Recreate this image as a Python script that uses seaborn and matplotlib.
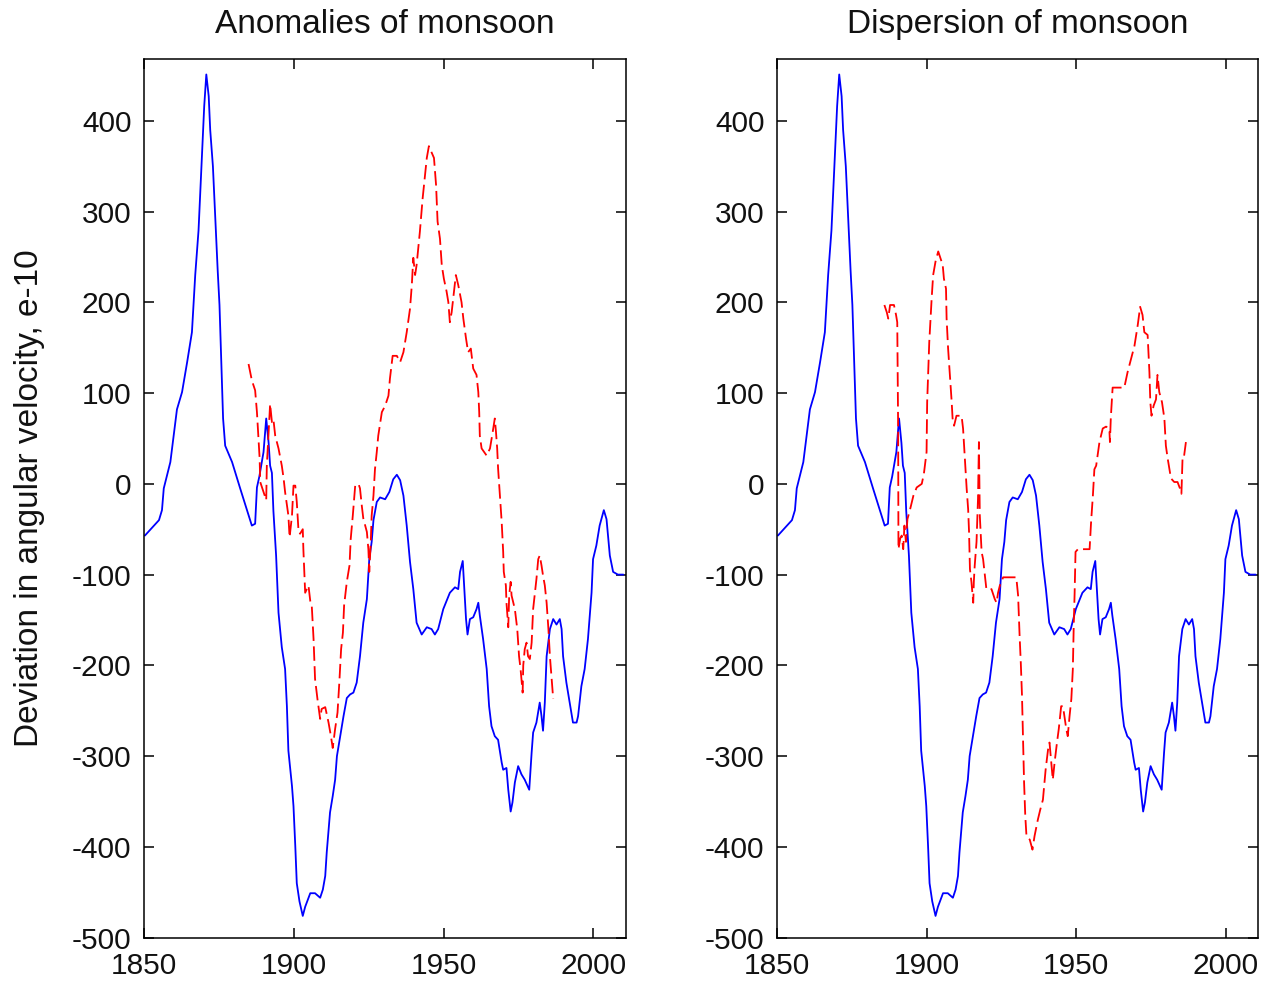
import numpy as np
import pandas as pd
import matplotlib
matplotlib.use("Agg")
import matplotlib.pyplot as plt
import seaborn as sns

# ---------------- data ----------------
# Earth rotation (angular velocity deviation, e-10), same curve in both panels
blue_years = [
    1850.3, 1855.0, 1856.0, 1856.6, 1858.8, 1861.0, 1862.7, 1864.4, 1866.0, 1867.1,
    1868.2, 1869.4, 1870.1, 1870.8, 1871.6, 1872.1, 1873.0, 1873.8, 1874.6, 1875.2,
    1875.8, 1876.4, 1877.1, 1879.4, 1882.1, 1886.0, 1887.1, 1887.7, 1888.5, 1889.9,
    1890.8, 1891.6, 1892.1, 1892.7, 1893.2, 1894.1, 1894.9, 1896.0, 1897.1, 1897.7,
    1898.2, 1899.4, 1899.9, 1900.5, 1901.0, 1901.9, 1903.0, 1903.8, 1905.5, 1907.1,
    1908.8, 1909.7, 1910.5, 1911.0, 1912.1, 1913.0, 1913.8, 1914.4, 1915.5, 1916.6,
    1917.7, 1918.8, 1919.9, 1921.0, 1922.1, 1923.2, 1924.4, 1925.2, 1926.0, 1926.6,
    1927.7, 1928.8, 1930.5, 1931.9, 1933.2, 1934.4, 1935.5, 1936.6, 1937.7, 1938.8,
    1939.9, 1941.0, 1942.7, 1944.4, 1946.0, 1947.1, 1948.2, 1949.9, 1951.0, 1952.1,
    1953.8, 1954.9, 1955.5, 1956.4, 1956.8, 1957.5, 1958.0, 1958.8, 1959.9, 1961.0,
    1961.6, 1962.1, 1963.2, 1964.4, 1965.2, 1966.0, 1967.1, 1968.2, 1969.4, 1969.9,
    1971.0, 1971.6, 1972.4, 1973.0, 1973.8, 1974.9, 1976.0, 1977.1, 1978.6, 1979.4,
    1979.9, 1981.0, 1982.1, 1982.7, 1983.2, 1983.8, 1984.4, 1985.5, 1986.6, 1987.7,
    1988.8, 1989.4, 1989.9, 1991.0, 1992.1, 1993.2, 1994.4, 1994.9, 1996.0, 1997.1,
    1998.2, 1999.4, 1999.9, 2001.0, 2002.1, 2003.5, 2004.4, 2005.5, 2006.6, 2008.2,
    2010.0,
]
blue_values = [
    -57, -40, -29, -5, 24, 82, 101, 134, 167, 230,
    279, 364, 416, 451, 427, 390, 350, 292, 235, 197,
    136, 72, 42, 24, -5, -46, -44, -4, 8, 35,
    72, 45, 20, 12, -30, -79, -142, -180, -204, -245,
    -294, -333, -355, -399, -440, -460, -476, -466, -451, -451,
    -456, -447, -432, -406, -362, -344, -326, -300, -278, -256,
    -236, -232, -230, -219, -190, -153, -127, -83, -64, -40,
    -20, -15, -17, -9, 5, 10, 4, -13, -46, -86,
    -116, -153, -166, -158, -160, -166, -160, -138, -129, -120,
    -114, -116, -97, -85, -109, -149, -166, -149, -147, -138,
    -131, -145, -171, -204, -245, -267, -278, -282, -307, -315,
    -313, -337, -361, -351, -329, -311, -320, -326, -337, -296,
    -274, -263, -241, -256, -272, -241, -190, -160, -149, -155,
    -149, -160, -190, -219, -241, -263, -263, -256, -223, -204,
    -171, -120, -83, -68, -46, -29, -39, -79, -97, -100,
    -100,
]

# Monsoon anomalies (left panel, red dashed)
anom_years = [
    1884.9, 1886.0, 1887.1, 1887.7, 1888.2, 1888.6, 1888.8, 1889.9, 1890.8, 1891.0,
    1892.1, 1892.7, 1893.2, 1893.8, 1894.9, 1896.0, 1896.6, 1897.1, 1898.2, 1898.6,
    1899.4, 1899.9, 1900.5, 1901.0, 1901.6, 1902.1, 1903.0, 1903.2, 1903.8, 1904.9,
    1905.5, 1906.0, 1906.6, 1907.1, 1907.9, 1908.8, 1909.3, 1910.5, 1911.6, 1912.4,
    1913.0, 1913.8, 1914.6, 1915.2, 1915.8, 1916.4, 1916.8, 1917.7, 1918.6, 1919.0,
    1919.7, 1920.5, 1921.6, 1922.1, 1922.7, 1923.2, 1924.4, 1924.9, 1925.2, 1925.7,
    1926.0, 1926.6, 1927.1, 1927.7, 1928.2, 1929.4, 1930.5, 1931.6, 1932.1, 1933.0,
    1934.4, 1935.5, 1936.6, 1937.7, 1938.8, 1939.4, 1939.9, 1940.5, 1941.0, 1942.1,
    1943.0, 1943.8, 1944.4, 1945.1, 1946.8, 1947.5, 1948.0, 1948.8, 1949.4, 1950.1,
    1951.0, 1951.6, 1952.1, 1952.7, 1953.5, 1954.1, 1954.9, 1956.0, 1956.6, 1957.5,
    1958.2, 1959.1, 1959.9, 1961.0, 1961.6, 1961.9, 1962.1, 1962.7, 1964.4, 1965.5,
    1966.4, 1967.1, 1967.5, 1967.9, 1968.2, 1968.8, 1969.4, 1969.9, 1970.1, 1970.8,
    1971.0, 1971.6, 1971.9, 1972.4, 1972.7, 1973.8, 1974.6, 1975.2, 1975.7, 1976.4,
    1976.6, 1977.1, 1977.7, 1978.2, 1978.8, 1979.4, 1979.9, 1980.5, 1981.0, 1981.6,
    1982.1, 1982.7, 1983.2, 1983.8, 1984.4, 1985.0, 1985.5, 1986.1, 1986.6,
]
anom_values = [
    132, 114, 103, 79, 50, 28, 2, -9, -18, 20,
    88, 68, 71, 53, 39, 20, 6, -9, -35, -59,
    -35, -2, -2, -20, -53, -55, -50, -72, -120, -112,
    -129, -134, -171, -215, -237, -259, -248, -246, -263, -278,
    -291, -270, -252, -219, -182, -164, -134, -108, -90, -61,
    -35, -2, 0, -5, -24, -38, -53, -72, -97, -64,
    -35, -13, 16, 35, 53, 79, 86, 97, 116, 141,
    141, 134, 145, 167, 193, 219, 249, 230, 241, 278,
    314, 340, 359, 372, 359, 329, 289, 270, 241, 226,
    212, 200, 178, 189, 212, 230, 219, 200, 182, 160,
    145, 149, 127, 120, 101, 79, 53, 39, 31, 39,
    57, 72, 57, 39, 17, -12, -42, -75, -97, -112,
    -131, -158, -123, -108, -123, -138, -160, -190, -204, -230,
    -200, -182, -175, -190, -193, -175, -138, -120, -105, -83,
    -79, -90, -101, -112, -131, -160, -190, -215, -237,
]

# Monsoon dispersion (right panel, red dashed)
disp_years = [
    1885.9, 1886.7, 1887.2, 1887.8, 1889.1, 1889.8, 1890.2, 1890.5, 1890.6, 1891.2,
    1891.7, 1892.2, 1892.6, 1893.1, 1893.6, 1894.5, 1895.6, 1896.7, 1898.4, 1899.1,
    1900.0, 1900.2, 1900.9, 1901.7, 1902.2, 1903.0, 1903.9, 1904.7, 1905.4, 1905.8,
    1906.5, 1906.7, 1907.2, 1907.8, 1908.4, 1908.7, 1909.2, 1910.0, 1911.7, 1912.2,
    1912.6, 1913.4, 1913.9, 1914.2, 1914.5, 1915.0, 1915.6, 1915.8, 1916.1, 1916.7,
    1917.2, 1917.5, 1917.8, 1918.4, 1918.9, 1919.5, 1920.0, 1921.7, 1922.8, 1923.4,
    1923.9, 1924.5, 1925.6, 1930.0, 1930.6, 1931.1, 1931.5, 1931.9, 1932.2, 1932.6,
    1933.0, 1933.4, 1934.5, 1935.4, 1936.1, 1937.2, 1938.0, 1938.9, 1939.8, 1940.6,
    1941.1, 1941.7, 1942.2, 1942.8, 1943.6, 1944.2, 1945.0, 1945.6, 1946.1, 1946.7,
    1947.2, 1947.8, 1948.4, 1948.9, 1949.2, 1949.5, 1949.8, 1950.6, 1954.5, 1955.0,
    1955.6, 1956.1, 1956.7, 1957.8, 1958.9, 1960.0, 1961.1, 1961.3, 1961.6, 1962.2,
    1963.9, 1966.1, 1967.2, 1968.4, 1969.5, 1970.6, 1971.4, 1972.2, 1972.8, 1973.9,
    1974.5, 1974.8, 1975.2, 1975.9, 1976.7, 1977.2, 1977.8, 1978.7, 1979.5, 1980.0,
    1980.6, 1981.7, 1982.8, 1983.9, 1984.7, 1985.2, 1985.6, 1986.1, 1986.7,
]
disp_values = [
    197, 189, 182, 197, 197, 186, 178, 60, -72, -60,
    -57, -72, -46, -64, -39, -28, -13, -4, 0, 11,
    35, 90, 156, 204, 230, 245, 256, 248, 241, 226,
    215, 182, 149, 120, 90, 72, 64, 75, 75, 61,
    39, -5, -28, -53, -94, -108, -131, -108, -90, -64,
    -16, 46, -35, -75, -83, -101, -116, -116, -127, -131,
    -120, -112, -103, -103, -123, -167, -197, -233, -274, -329,
    -366, -388, -392, -403, -388, -370, -359, -348, -315, -293,
    -285, -307, -326, -307, -285, -270, -245, -245, -256, -270,
    -278, -256, -237, -204, -156, -120, -75, -72, -72, -42,
    -13, 16, 20, 46, 61, 63, 61, 46, 73, 106,
    106, 106, 123, 138, 152, 175, 195, 186, 167, 164,
    123, 90, 75, 86, 93, 120, 101, 90, 72, 42,
    28, 6, 2, 2, -5, -11, 31, 31, 46,
]

panel_titles = ["Anomalies of monsoon", "Dispersion of monsoon"]
y_label = "Deviation in angular velocity, e-10"
x_ticks = [1850, 1900, 1950, 2000]
y_ticks = [-500, -400, -300, -200, -100, 0, 100, 200, 300, 400]

# ---------------- style ----------------
sns.set_theme(style="white")
plt.rcParams["font.family"] = ["Liberation Sans", "DejaVu Sans"]

blue_df = pd.DataFrame({"year": blue_years, "value": blue_values})
red_dfs = [
    pd.DataFrame({"year": anom_years, "value": anom_values}),
    pd.DataFrame({"year": disp_years, "value": disp_values}),
]

W, H = 1267, 983
fig = plt.figure(figsize=(W / 100, H / 100), dpi=100)
fig.patch.set_facecolor("white")

ax_boxes = [
    (144 / W, 1 - 937.7 / H, 481.7 / W, (937.7 - 59) / H),
    (777 / W, 1 - 937.7 / H, 481.0 / W, (937.7 - 59) / H),
]

for i, box in enumerate(ax_boxes):
    ax = fig.add_axes(box)
    ax.set_facecolor("white")
    sns.lineplot(data=blue_df, x="year", y="value", ax=ax, color="#0000ff",
                 linewidth=1.3, sort=False, estimator=None)
    sns.lineplot(data=red_dfs[i], x="year", y="value", ax=ax, color="#ff0000",
                 linewidth=1.3, sort=False, estimator=None,
                 linestyle=(0, (8, 3)))
    ax.set_xlim(1850, 2010.8)
    ax.set_ylim(-500, 468)
    ax.set_xticks(x_ticks)
    ax.set_yticks(y_ticks)
    ax.set_xticklabels([str(t) for t in x_ticks])
    ax.set_yticklabels([str(t) for t in y_ticks])
    ax.tick_params(axis="both", which="both", direction="in", length=7, width=1.1,
                   color="black", top=True, right=True, bottom=True, left=True,
                   labelsize=21.5, labelcolor="#111111")
    ax.tick_params(axis="y", pad=9)
    ax.tick_params(axis="x", pad=10)
    for sp in ax.spines.values():
        sp.set_visible(True)
        sp.set_color("black")
        sp.set_linewidth(1.1)
    ax.set_title(panel_titles[i], fontsize=24, pad=19, color="#111111")
    ax.set_xlabel("")
    if i == 0:
        ax.set_ylabel(y_label, fontsize=24, color="#111111", labelpad=19)
    else:
        ax.set_ylabel("")
    ax.grid(False)

fig.savefig("out.png", dpi=100, facecolor="white")
